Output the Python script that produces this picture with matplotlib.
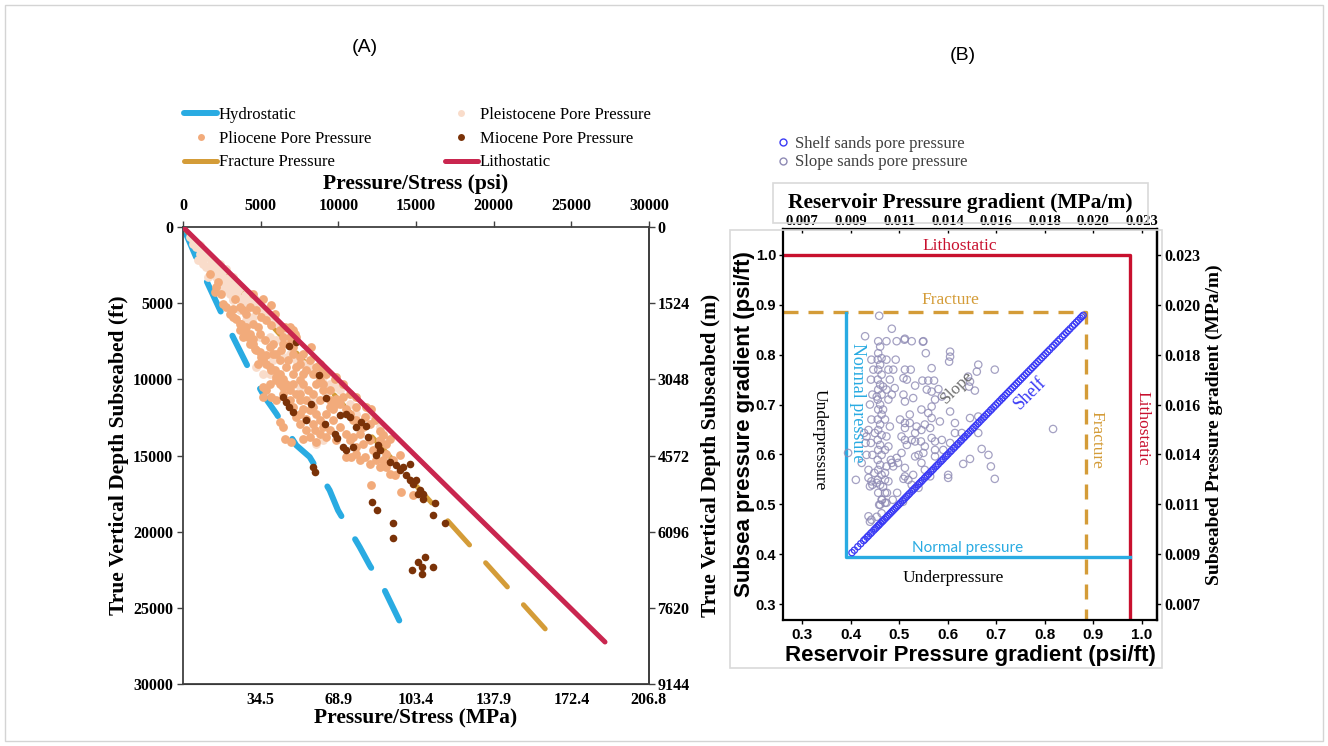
import matplotlib
matplotlib.use("Agg")
import matplotlib.pyplot as plt
from matplotlib.lines import Line2D
from matplotlib.patches import Rectangle
from matplotlib.ticker import FixedLocator, FormatStrFormatter

plt.rcParams['font.family'] = 'Liberation Serif'
SANS = 'Liberation Sans'

# ---------------- panel A: pressure / stress vs depth ----------------
hydro_psi = [0, 1395, 2790, 4292, 5258, 6009, 7296, 8155, 9442, 9979, 11374,
             12018, 12876, 13970, 14807]
hydro_ft = [0, 3282, 6345, 9408, 11159, 12253, 14331, 15097, 17285, 18598,
            21005, 22209, 23630, 25928, 27243]
frac_psi = [0, 23498]
frac_ft = [0, 26586]
litho_psi = [0, 27167]
litho_ft = [0, 27243]

pleist_psi = [429, 644, 858, 1073, 966, 1288, 1502, 1717, 1931, 1610, 2146, 2361,
              2683, 2790, 3004, 3219, 3434, 3648, 3863, 4077, 4292, 3756, 3434,
              3004, 2575, 2146, 4292, 4614, 4936, 5365, 5794, 6116, 6438, 4507,
              4077, 4936, 5580, 6009, 6653, 6867, 7296, 7726, 8155, 8584, 9013,
              9442, 9872, 6438, 5794, 7511, 8155, 8584, 9228, 10086, 10730, 11159,
              12018, 12661, 12876, 9013, 8584, 5580, 4721, 5150, 1073, 1395, 1824,
              2361, 2790, 3219, 644, 1288, 1502, 1931, 2039, 2361, 2575, 2468,
              2897, 3219, 3541, 3970, 4292, 4721, 5043, 5365, 5687, 3219, 3648]
pleist_ft = [656, 1094, 1313, 1750, 2188, 2407, 2626, 2516, 2844, 3282, 3282, 3720,
             3501, 4048, 4376, 4157, 4376, 4704, 4814, 5032, 4923, 3938, 3610,
             3282, 2844, 2626, 4376, 4704, 5032, 5470, 5908, 6345, 6783, 5908,
             6126, 7220, 7220, 7439, 7439, 8314, 8752, 8971, 9190, 9627, 9846,
             10284, 10502, 8533, 8752, 10502, 11378, 11378, 10940, 10721, 11596,
             12253, 12253, 13128, 13566, 14003, 14222, 9627, 9190, 9627, 1203,
             1969, 2079, 2407, 2735, 3282, 875, 1532, 1969, 2188, 3063, 3063, 3282,
             4048, 3720, 3829, 4157, 4485, 4704, 5032, 5361, 5798, 6126, 4814, 5470]

plio_psi = [1717, 2253, 2039, 2468, 2146, 2575, 3219, 3004, 3434, 3756, 4077, 4292,
            4507, 3863, 3648, 4292, 4614, 4936, 5365, 5150, 4829, 5580, 5902, 6223,
            6438, 6653, 6009, 5580, 5365, 5150, 5687, 6438, 6867, 7296, 7511, 7082,
            7726, 8048, 8369, 8584, 9013, 9442, 9872, 10301, 10086, 9657, 9228,
            8584, 8155, 7726, 7296, 7511, 7940, 8155, 8584, 7726, 6438, 6223, 6545,
            6975, 9013, 9442, 9872, 10515, 10730, 11159, 11374, 11696, 12018,
            12232, 12018, 12876, 13091, 13305, 12340, 12125, 11696, 10730, 11159,
            10301, 9872, 9228, 8799, 8155, 7511, 7082, 6867, 6438, 6223, 7082,
            7296, 6545, 5687, 5365, 5043, 4721, 4292, 3863, 2790, 3326, 4507, 5150,
            5687, 5902, 4829, 5258, 5794, 6331, 6760, 7296, 7726, 8369, 8799, 7511,
            6009, 5150, 8262, 9765, 12876, 13091, 13627, 14056, 14807, 12125,
            13949, 10837, 9442, 11159, 8799, 8477, 6867, 7189, 9013, 11803, 12661,
            3219, 3648, 3970, 4185, 4507, 4721, 5043, 5365, 5687, 6009, 6223, 6438,
            6867, 7082, 7511, 7940, 8369, 8799, 9228, 9657, 10086, 10515, 10945,
            11374, 11588, 11159, 12447, 12661, 13305, 11588, 10945, 10515, 9872,
            8799, 8369, 7940, 7511, 7082, 6653, 6223, 5794, 7511, 7940, 8584, 9013,
            9442, 10730, 11159, 5580, 6009, 4936, 4507, 4077, 3648, 6438, 6867,
            7082, 7726, 12018, 12661, 13091, 13520]
plio_ft = [3063, 3610, 4267, 4376, 3938, 5032, 5361, 5689, 6017, 6345, 6564, 7002,
           7330, 7220, 6783, 7658, 7986, 8205, 8424, 8752, 8971, 9190, 9408, 9627,
           9955, 10284, 10065, 10284, 10721, 10502, 11159, 10502, 10721, 10940,
           11378, 10284, 10284, 10721, 10940, 10284, 10721, 11378, 11268, 11159,
           11596, 11925, 12253, 12253, 12034, 11925, 12472, 12909, 13347, 13784,
           14113, 13894, 13128, 12800, 13894, 14113, 13128, 13347, 14003, 15097,
           14003, 14441, 15316, 15097, 15535, 14660, 14003, 13675, 14222, 13894,
           12690, 11925, 12472, 10940, 11159, 10284, 9846, 9627, 8971, 8752, 8533,
           8314, 7658, 7220, 6783, 6783, 7220, 6564, 6455, 6126, 5908, 5470, 5251,
           5470, 5251, 4704, 4376, 4704, 5142, 5689, 6564, 7439, 7658, 8096, 8752,
           9190, 9627, 9627, 10065, 10065, 11378, 11159, 7877, 9955, 15316, 15754,
           16301, 17395, 17613, 16913, 14988, 15097, 11815, 11815, 12690, 13347,
           6564, 7002, 9408, 11815, 13390,
           5908, 6345, 6783, 7220, 7658, 8096, 8533, 8971, 9408, 9846, 10284, 10940,
           11378, 11815, 12253, 12581, 12909, 13566, 13784, 12690, 13128, 13566,
           13784, 13566, 14222, 14878, 15316, 15754, 16191, 13128, 12690, 11925,
           11596, 11378, 11815, 11378, 10940, 9627, 9190, 8752, 8314, 8971, 9408,
           9190, 10284, 10721, 12253, 12690, 7877, 8314, 7002, 6345, 5689, 5251,
           7658, 7220, 7877, 8314, 12909, 14003, 14878, 15316]

mio_psi = [6824, 7253, 8734, 6438, 6653, 6824, 7082, 8262, 9185, 7940, 9121, 9764,
           9915, 10086, 10515, 10730, 11159, 11481, 11803, 11910, 10301, 10515,
           10945, 12554, 12661, 12447, 13305, 13734, 13949, 14164, 14593, 14378,
           14593, 14807, 15022, 15237, 15451, 15451, 15129, 8369, 8498, 12168,
           12490, 13520, 13520, 16224, 16095, 16868, 14743, 15129, 15387, 15580,
           15387, 16095]
mio_ft = [7833, 7549, 9737, 11159, 11487, 11815, 12143, 11596, 11203, 12690, 12953,
          13566, 13828, 12362, 12253, 12472, 13128, 12800, 13084, 13784, 14441,
          14660, 14441, 14331, 14660, 14988, 15425, 15644, 15972, 15754, 15535,
          16301, 16629, 16848, 16629, 17285, 17504, 17832, 17504, 15754, 16082,
          18051, 18576, 19429, 20414, 18117, 18904, 19429, 22514, 21989, 22318,
          21661, 22777, 22318]

psi_ticks = [0, 5000, 10000, 15000, 20000, 25000, 30000]
ft_ticks = [0, 5000, 10000, 15000, 20000, 25000, 30000]
mpa_ticks = [34.5, 68.9, 103.4, 137.9, 172.4, 206.8]
m_ticks = [0, 1524, 3048, 4572, 6096, 7620, 9144]
PSI_TO_MPA = 0.0068948
FT_TO_M = 0.3048

# ---------------- panel B: pressure gradients ----------------
shelf_grad = [0.403, 0.408, 0.415, 0.421, 0.427, 0.430, 0.434, 0.437, 0.441, 0.444,
              0.448, 0.451, 0.454, 0.457, 0.459, 0.462, 0.465, 0.467, 0.470, 0.473,
              0.476, 0.479, 0.482, 0.485, 0.488, 0.491, 0.494, 0.497, 0.500, 0.503,
              0.507, 0.510, 0.513, 0.516, 0.519, 0.522, 0.526, 0.529, 0.532, 0.535,
              0.539, 0.542, 0.545, 0.548, 0.552, 0.555, 0.558, 0.561, 0.565, 0.568,
              0.571, 0.575, 0.578, 0.581, 0.585, 0.588, 0.591, 0.595, 0.598, 0.601,
              0.605, 0.608, 0.612, 0.615, 0.619, 0.622, 0.626, 0.629, 0.633, 0.636,
              0.640, 0.643, 0.647, 0.651, 0.654, 0.658, 0.662, 0.665, 0.669, 0.673,
              0.676, 0.680, 0.684, 0.688, 0.691, 0.695, 0.699, 0.703, 0.707, 0.711,
              0.714, 0.718, 0.722, 0.726, 0.730, 0.734, 0.738, 0.742, 0.746, 0.750,
              0.754, 0.758, 0.762, 0.766, 0.770, 0.774, 0.778, 0.782, 0.786, 0.790,
              0.794, 0.798, 0.802, 0.806, 0.810, 0.815, 0.819, 0.823, 0.827, 0.831,
              0.836, 0.840, 0.844, 0.848, 0.852, 0.857, 0.861, 0.865, 0.869, 0.873,
              0.876, 0.879]
# shelf sands sit on the 1:1 line (subsea = reservoir gradient)
shelf_subsea = shelf_grad

slope_res = [0.459, 0.457, 0.461, 0.457, 0.464, 0.456, 0.461, 0.457, 0.464, 0.456,
             0.461, 0.457, 0.464, 0.456, 0.461, 0.457, 0.464, 0.456, 0.461, 0.457,
             0.464, 0.456, 0.461, 0.457, 0.464, 0.456, 0.461, 0.457, 0.464, 0.456,
             0.461, 0.457, 0.464, 0.459, 0.454, 0.467, 0.467, 0.450, 0.471, 0.449,
             0.471, 0.443, 0.447, 0.442, 0.445, 0.440, 0.443, 0.437, 0.442, 0.433,
             0.445, 0.437, 0.443, 0.440, 0.474, 0.478, 0.481, 0.474, 0.478, 0.471,
             0.481, 0.474, 0.478, 0.483, 0.474, 0.471, 0.478, 0.485, 0.488, 0.491,
             0.493, 0.485, 0.471, 0.474, 0.464, 0.443, 0.437, 0.430, 0.411, 0.423,
             0.395, 0.428, 0.431, 0.433, 0.437, 0.445, 0.485, 0.474, 0.495, 0.511,
             0.526, 0.550, 0.555, 0.567, 0.512, 0.524, 0.509, 0.516, 0.533, 0.548,
             0.560, 0.572, 0.557, 0.567, 0.581, 0.509, 0.512, 0.522, 0.502, 0.512,
             0.522, 0.536, 0.546, 0.512, 0.505, 0.512, 0.516, 0.526, 0.533, 0.545,
             0.564, 0.567, 0.574, 0.553, 0.540, 0.550, 0.533, 0.505, 0.495, 0.498,
             0.488, 0.546, 0.512, 0.512, 0.529, 0.553, 0.564, 0.574, 0.591, 0.605,
             0.615, 0.605, 0.605, 0.605, 0.603, 0.642, 0.646, 0.644, 0.656, 0.663,
             0.660, 0.697, 0.646, 0.663, 0.670, 0.684, 0.646, 0.632, 0.689, 0.697,
             0.601, 0.601, 0.540, 0.526, 0.519, 0.509, 0.567, 0.588, 0.574, 0.529,
             0.546, 0.567, 0.553, 0.584, 0.588, 0.574, 0.817, 0.615, 0.629, 0.663,
             0.533, 0.560, 0.512, 0.549, 0.496, 0.475, 0.465, 0.461, 0.471, 0.487,
             0.508, 0.440, 0.454, 0.454, 0.467]
slope_sub = [0.878, 0.827, 0.816, 0.803, 0.793, 0.790, 0.780, 0.770, 0.760, 0.750,
             0.740, 0.730, 0.720, 0.710, 0.700, 0.690, 0.680, 0.670, 0.660, 0.649,
             0.639, 0.629, 0.619, 0.609, 0.599, 0.589, 0.579, 0.569, 0.559, 0.549,
             0.539, 0.523, 0.509, 0.499, 0.716, 0.736, 0.690, 0.643, 0.609, 0.563,
             0.549, 0.790, 0.770, 0.750, 0.720, 0.700, 0.670, 0.649, 0.623, 0.636,
             0.599, 0.569, 0.546, 0.536, 0.790, 0.770, 0.750, 0.730, 0.710, 0.670,
             0.656, 0.636, 0.616, 0.589, 0.576, 0.563, 0.546, 0.583, 0.770, 0.733,
             0.790, 0.720, 0.523, 0.503, 0.482, 0.469, 0.476, 0.837, 0.549, 0.583,
             0.603, 0.643, 0.623, 0.599, 0.553, 0.539, 0.852, 0.827, 0.827, 0.830,
             0.827, 0.827, 0.803, 0.773, 0.770, 0.770, 0.753, 0.750, 0.738, 0.748,
             0.748, 0.748, 0.730, 0.726, 0.731, 0.720, 0.706, 0.680, 0.670, 0.663,
             0.663, 0.656, 0.649, 0.653, 0.636, 0.629, 0.619, 0.629, 0.626, 0.626,
             0.653, 0.633, 0.626, 0.616, 0.599, 0.603, 0.596, 0.603, 0.593, 0.583,
             0.576, 0.583, 0.573, 0.556, 0.559, 0.569, 0.556, 0.596, 0.609, 0.623,
             0.643, 0.686, 0.806, 0.796, 0.786, 0.756, 0.746, 0.736, 0.728, 0.780,
             0.766, 0.770, 0.673, 0.676, 0.611, 0.599, 0.591, 0.581, 0.576, 0.551,
             0.559, 0.553, 0.533, 0.539, 0.549, 0.551, 0.696, 0.716, 0.710, 0.713,
             0.690, 0.673, 0.660, 0.666, 0.629, 0.609, 0.651, 0.663, 0.643, 0.643,
             0.643, 0.683, 0.832, 0.826, 0.523, 0.523, 0.509, 0.499, 0.503, 0.509,
             0.505, 0.465, 0.475, 0.543, 0.535]

litho_gx = [0.26, 0.975, 0.975]
litho_gy = [1.0, 1.0, 0.26]
frac_gx = [0.26, 0.884, 0.884]
frac_gy = [0.886, 0.886, 0.26]
normal_gx = [0.39, 0.39, 0.975]
normal_gy = [0.884, 0.395, 0.395]
grad_ticks = [0.3, 0.4, 0.5, 0.6, 0.7, 0.8, 0.9, 1.0]
PSIFT_TO_MPAM = 0.022621

BLUE = '#29ABE2'
GOLD = '#D49C38'
CRIMSON = '#C9264F'
RED_B = '#C8102E'

W, H = 1328, 746
fig = plt.figure(figsize=(W / 100, H / 100), dpi=100)


def fbox(x0, y0, x1, y1):
    # pixel box (top-left origin) -> figure fraction rectangle
    return (x0 / W, 1 - y1 / H), (x1 - x0) / W, (y1 - y0) / H


# outer frame of the whole figure
xy, w, h = fbox(5, 5, 1323, 741)
fig.patches.append(Rectangle(xy, w, h, transform=fig.transFigure, fill=False,
                             ec='#d4d4d4', lw=1.0))

# ---- panel A ----
axA = fig.add_axes([183 / W, 1 - 684 / H, 466 / W, 457 / H])
axA.plot(hydro_psi, hydro_ft, color=BLUE, lw=4.3, ls=(0, (5.5, 4.5)),
         dash_capstyle='round', solid_capstyle='round', zorder=2)
axA.plot(frac_psi, frac_ft, color=GOLD, lw=3.6, ls=(0, (6.5, 4.8)),
         dash_capstyle='round', zorder=2)
axA.scatter(pleist_psi, pleist_ft, s=40, color='#F9DCCA', lw=0, zorder=3)
axA.scatter(plio_psi, plio_ft, s=40, color='#F2AB7B', lw=0, zorder=3)
axA.scatter(mio_psi, mio_ft, s=30, color='#7A3208', lw=0, zorder=3)
axA.plot(litho_psi, litho_ft, color=CRIMSON, lw=3.6, solid_capstyle='round', zorder=4)

axA.set_xlim(0, 30000)
axA.set_ylim(30000, 0)
axA.xaxis.tick_top()
axA.xaxis.set_label_position('top')
axA.set_xticks(psi_ticks)
axA.set_yticks(ft_ticks)
axA.set_xlabel('Pressure/Stress (psi)', fontsize=15.5, fontweight='bold', labelpad=7)
axA.set_ylabel('True Vertical Depth Subseabed (ft)', fontsize=15.5, fontweight='bold',
               labelpad=3)
axA.tick_params(labelsize=11.5, length=4, width=1, color='#404040', pad=3)
axA.tick_params(axis='x', pad=5)
for lab in axA.get_xticklabels() + axA.get_yticklabels():
    lab.set_fontweight('bold')
for sp in axA.spines.values():
    sp.set_color('#404040')
    sp.set_linewidth(1.3)

secB = axA.secondary_xaxis('bottom', functions=(lambda p: p * PSI_TO_MPA,
                                                lambda m: m / PSI_TO_MPA))
secB.set_xticks(mpa_ticks)
secB.tick_params(labelsize=11.5, length=0, pad=6)
secB.set_xlabel('Pressure/Stress (MPa)', fontsize=15.5, fontweight='bold', labelpad=0)
for lab in secB.get_xticklabels():
    lab.set_fontweight('bold')

secR = axA.secondary_yaxis('right', functions=(lambda f: f * FT_TO_M,
                                               lambda m: m / FT_TO_M))
secR.set_yticks(m_ticks)
secR.yaxis.set_major_formatter(FormatStrFormatter('%d'))
secR.tick_params(labelsize=11.5, length=4, width=1, color='#404040', pad=2)
secR.set_ylabel('True Vertical Depth Subseabed (m)', fontsize=15.5, fontweight='bold',
                labelpad=8)
for lab in secR.get_yticklabels():
    lab.set_fontweight('bold')
secR.spines['right'].set_color('#404040')
secR.spines['right'].set_linewidth(1.3)

handles_a = [
    Line2D([], [], color=BLUE, lw=4.3, solid_capstyle='round'),
    Line2D([], [], ls='', marker='o', ms=5, color='#F2AB7B', mew=0),
    Line2D([], [], color=GOLD, lw=3.6, solid_capstyle='round'),
    Line2D([], [], ls='', marker='o', ms=5, color='#F9DCCA', mew=0),
    Line2D([], [], ls='', marker='o', ms=5, color='#7A3208', mew=0),
    Line2D([], [], color=CRIMSON, lw=3.6, solid_capstyle='round'),
]
labels_a = ['Hydrostatic', 'Pliocene Pore Pressure', 'Fracture Pressure',
            'Pleistocene Pore Pressure', 'Miocene Pore Pressure', 'Lithostatic']
fig.legend(handles_a, labels_a, ncol=2, loc='upper left',
           bbox_to_anchor=(184 / W, 1 - 107 / H), frameon=False, fontsize=12,
           handlelength=2.0, handletextpad=0.1, columnspacing=4.4,
           labelspacing=0.46, borderpad=0, borderaxespad=0)

fig.text(365 / W, 1 - 47 / H, '(A)', fontsize=14, family=SANS, ha='center',
         va='center')
fig.text(963 / W, 1 - 55 / H, '(B)', fontsize=14, family=SANS, ha='center',
         va='center')

# ---- panel B ----
xy, w, h = fbox(730, 230, 1162, 668)
fig.patches.append(Rectangle(xy, w, h, transform=fig.transFigure, fill=False,
                             ec='#d9d9d9', lw=1.2))
xy, w, h = fbox(773, 183, 1148, 223)
fig.patches.append(Rectangle(xy, w, h, transform=fig.transFigure, fill=False,
                             ec='#d9d9d9', lw=1.2))
fig.text(960 / W, 1 - 203 / H, 'Reservoir Pressure gradient (MPa/m)', fontsize=15.5,
         fontweight='bold', ha='center', va='center')

axB = fig.add_axes([783 / W, 1 - 620 / H, 374 / W, 391 / H])
axB.scatter(slope_res, slope_sub, s=28, facecolors='none', edgecolors='#8E8AB4',
            linewidths=0.9, alpha=0.8, zorder=3)
axB.scatter(shelf_grad, shelf_subsea, s=20, facecolors='none', edgecolors='#3B3BF5',
            linewidths=0.9, zorder=4)
axB.plot(litho_gx, litho_gy, color=RED_B, lw=2.4, zorder=2)
axB.plot(frac_gx, frac_gy, color=GOLD, lw=2.4, ls=(0, (4.5, 3)), zorder=2)
axB.plot(normal_gx, normal_gy, color=BLUE, lw=2.4, zorder=2)

axB.text(0.625, 1.018, 'Lithostatic', color=RED_B, fontsize=12.5, ha='center',
         va='center')
axB.text(1.002, 0.653, 'Lithostatic', color=RED_B, fontsize=12.5, rotation=-90,
         ha='center', va='center')
axB.text(0.605, 0.91, 'Fracture', color=GOLD, fontsize=12.5, ha='center', va='center')
axB.text(0.907, 0.629, 'Fracture', color=GOLD, fontsize=12.5, rotation=-90,
         ha='center', va='center')
axB.text(0.415, 0.703, 'Normal pressure', color=BLUE, fontsize=13, rotation=-90,
         ha='center', va='center')
axB.text(0.642, 0.413, 'Normal pressure', color=BLUE, fontsize=11, family='Lato',
         ha='center', va='center')
axB.text(0.337, 0.629, 'Underpressure', color='black', fontsize=12.5, rotation=-90,
         ha='center', va='center')
axB.text(0.611, 0.353, 'Underpressure', color='black', fontsize=12.5, ha='center',
         va='center')
axB.text(0.619, 0.735, 'Slope', color='#6E6E6E', fontsize=12.5, rotation=45,
         ha='center', va='center', zorder=5)
axB.text(0.769, 0.723, 'Shelf', color='#3B3BF5', fontsize=13, rotation=45,
         ha='center', va='center', zorder=5)

axB.set_xlim(0.261, 1.031)
axB.set_ylim(0.268, 1.052)
axB.set_xticks(grad_ticks)
axB.set_yticks(grad_ticks)
axB.xaxis.set_major_formatter(FormatStrFormatter('%.1f'))
axB.yaxis.set_major_formatter(FormatStrFormatter('%.1f'))
axB.tick_params(labelsize=11, length=3, width=1, pad=3)
axB.tick_params(axis='y', labelsize=10.5, pad=2)
for lab in axB.get_xticklabels() + axB.get_yticklabels():
    lab.set_family(SANS)
    lab.set_fontweight('bold')
axB.set_xlabel('Reservoir Pressure gradient (psi/ft)', fontsize=16, family=SANS,
               fontweight='bold', labelpad=2)
axB.set_ylabel('Subsea pressure gradient (psi/ft)', fontsize=16, family=SANS,
               fontweight='bold')
axB.yaxis.set_label_coords(-0.075, 0.5)
for sp in axB.spines.values():
    sp.set_color('black')
    sp.set_linewidth(1.6)

topB = axB.secondary_xaxis('top', functions=(lambda g: g * PSIFT_TO_MPAM,
                                             lambda m: m / PSIFT_TO_MPAM))
topB.xaxis.set_major_locator(FixedLocator([g * PSIFT_TO_MPAM for g in grad_ticks]))
topB.xaxis.set_major_formatter(FormatStrFormatter('%.3f'))
topB.tick_params(labelsize=10.5, length=3, width=1, pad=0.5, direction='in')
for lab in topB.get_xticklabels():
    lab.set_fontweight('bold')

rightB = axB.secondary_yaxis('right', functions=(lambda g: g * PSIFT_TO_MPAM,
                                                 lambda m: m / PSIFT_TO_MPAM))
rightB.yaxis.set_major_locator(FixedLocator([g * PSIFT_TO_MPAM for g in grad_ticks]))
rightB.yaxis.set_major_formatter(FormatStrFormatter('%.3f'))
rightB.tick_params(labelsize=11.5, length=3, width=1, pad=2)
rightB.set_ylabel('Subseabed Pressure gradient (MPa/m)', fontsize=14,
                  fontweight='bold', labelpad=4)
for lab in rightB.get_yticklabels():
    lab.set_fontweight('bold')
rightB.spines['right'].set_linewidth(1.6)

handles_b = [
    Line2D([], [], ls='', marker='o', ms=5, mfc='none', mec='#3B3BF5', mew=1.0),
    Line2D([], [], ls='', marker='o', ms=5, mfc='none', mec='#8E8AB4', mew=1.0),
]
leg_b = fig.legend(handles_b, ['Shelf sands pore pressure', 'Slope sands pore pressure'],
                   loc='upper left', bbox_to_anchor=(778 / W, 1 - 136 / H),
                   frameon=False, fontsize=12, handlelength=0.6, handletextpad=0.4,
                   labelspacing=0.15, borderpad=0, borderaxespad=0)
for t in leg_b.get_texts():
    t.set_color('#404040')

fig.savefig('out.png', dpi=100)
